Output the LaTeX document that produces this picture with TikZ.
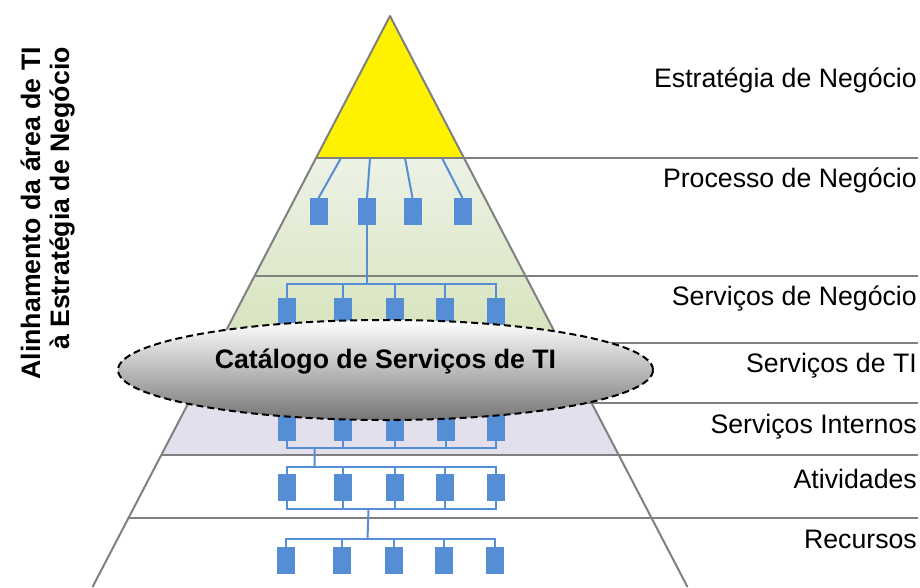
\documentclass[tikz,border=0pt]{standalone}
\usepackage{fontspec}
\setmainfont{Liberation Sans}
\usetikzlibrary{calc,shapes.geometric}
\definecolor{boxblue}{RGB}{85,142,213}
\definecolor{linegray}{RGB}{128,128,128}
\definecolor{greentop}{RGB}{237,242,230}
\definecolor{greenbot}{RGB}{214,227,188}
\definecolor{lav}{RGB}{228,223,236}
\definecolor{ellbot}{RGB}{118,118,118}
\begin{document}
\begin{tikzpicture}[x=1pt,y=-1pt,
 blk/.style={fill=boxblue, draw=none, minimum width=18pt, minimum height=27pt, inner sep=0pt, outer sep=0pt},
 wire/.style={draw=boxblue, line width=2pt},
 sep/.style={draw=linegray, line width=2pt},
 lbl/.style={anchor=base east, inner sep=0pt, font=\fontsize{26.7}{30}\selectfont},
]
\useasboundingbox (0,0) rectangle (920,587);

% band fills
\fill[yellow] (390,16) -- (464,158) -- (316,158) -- cycle;
\shade[top color=greentop, bottom color=greenbot] (316,158) -- (464,158) -- (560.4,343) -- (219.6,343) -- cycle;
\fill[lav] (219.6,343) -- (560.4,343) -- (618.7,455) -- (161.3,455) -- cycle;

% separators
\foreach \yy in {158,276,343,403,455,518}
  \draw[sep] ({390-0.521*(\yy-16)},\yy) -- (918,\yy);
\draw[sep, line join=round] (92.5,587) -- (390,16) -- (687.5,587);

% process boxes
\node[blk] (P1) at (318.5,211.5) {};
\node[blk] (P2) at (367,211.5) {};
\node[blk] (P3) at (412.5,211.5) {};
\node[blk] (P4) at (462.5,211.5) {};
\coordinate (t1) at (341,158);
\coordinate (t2) at (370,158);
\coordinate (t3) at (405,158);
\coordinate (t4) at (442,158);
\foreach \k in {1,2,3,4} \draw[wire] (P\k.north) -- (t\k);

% business services
\node[blk] (N1) at (286.5,311.5) {};
\node[blk] (N2) at (342.5,311.5) {};
\node[blk] (N3) at (394.5,311.5) {};
\node[blk] (N4) at (445,311.5) {};
\node[blk] (N5) at (495.5,311.5) {};
\draw[wire] (P2.south) -- ($(P2.south |- N1.north)+(0,-14)$);
\draw[wire] (N1.north) -- ++(0,-14) -| (N5.north);
\foreach \k in {2,3,4} \draw[wire] (N\k.north) -- ++(0,-14);

% internal services
\node[blk] (I1) at (286.5,427.5) {};
\node[blk] (I2) at (343,427.5) {};
\node[blk] (I3) at (394.5,427.5) {};
\node[blk] (I4) at (445.5,427.5) {};
\node[blk] (I5) at (495.5,427.5) {};
\draw[wire] (I1.south) -- ++(0,7) -| (I5.south);
\foreach \k in {2,3,4} \draw[wire] (I\k.south) -- ++(0,7);

% activities
\node[blk] (A1) at (286.5,487.5) {};
\node[blk] (A2) at (342.5,487.5) {};
\node[blk] (A3) at (394.5,487.5) {};
\node[blk] (A4) at (444.5,487.5) {};
\node[blk] (A5) at (495.5,487.5) {};
\draw[wire] (A1.north) -- ++(0,-7) -| (A5.north);
\foreach \k in {2,3,4} \draw[wire] (A\k.north) -- ++(0,-7);
\draw[wire] (A1.south) -- ++(0,8) -| (A5.south);
\foreach \k in {2,3,4} \draw[wire] (A\k.south) -- ++(0,8);
\draw[wire] ($(I1.south)!.5!(I2.south)+(0,7)$) -- ($(A1.north)!.5!(A2.north)+(0,-7)$);

% resources
\node[blk] (R1) at (285.5,560.5) {};
\node[blk] (R2) at (341.5,560.5) {};
\node[blk] (R3) at (393.5,560.5) {};
\node[blk] (R4) at (444,560.5) {};
\node[blk] (R5) at (494.5,560.5) {};
\draw[wire] (R1.north) -- ++(0,-8) -| (R5.north);
\foreach \k in {2,3,4} \draw[wire] (R\k.north) -- ++(0,-8);
\draw[wire] ($(A2.south)!.5!(A3.south)+(0,8)$) -- ($(R2.north)!.5!(R3.north)+(0,-8)$);

% catalogue ellipse
\node[ellipse, draw=black, line width=2pt, dash pattern=on 7pt off 4pt,
      top color=white, bottom color=ellbot,
      minimum width=535pt, minimum height=100pt, inner sep=0pt] (cat) at (385.5,370) {};
\node[anchor=base, inner sep=0pt, font=\bfseries\fontsize{26.7}{30}\selectfont] (catlbl) at (385.5,368) {Catálogo de Serviços de TI};

% right labels
\node[lbl] (l1) at (917,87) {Estratégia de Negócio};
\node[lbl] (l2) at (917,187) {Processo de Negócio};
\node[lbl] (l3) at (917,305) {Serviços de Negócio};
\node[lbl] (l4) at (917,372) {Serviços de TI};
\node[lbl] (l5) at (917,433) {Serviços Internos};
\node[lbl] (l6) at (917,488) {Atividades};
\node[lbl] (l7) at (917,548) {Recursos};

% side label
\node[rotate=90, anchor=south east, align=right, inner sep=0pt,
      font=\bfseries\fontsize{26.7}{29}\selectfont] (side) at (75,47)
  {Alinhamento da área de TI\\à Estratégia de Negócio};
\end{tikzpicture}
\end{document}
